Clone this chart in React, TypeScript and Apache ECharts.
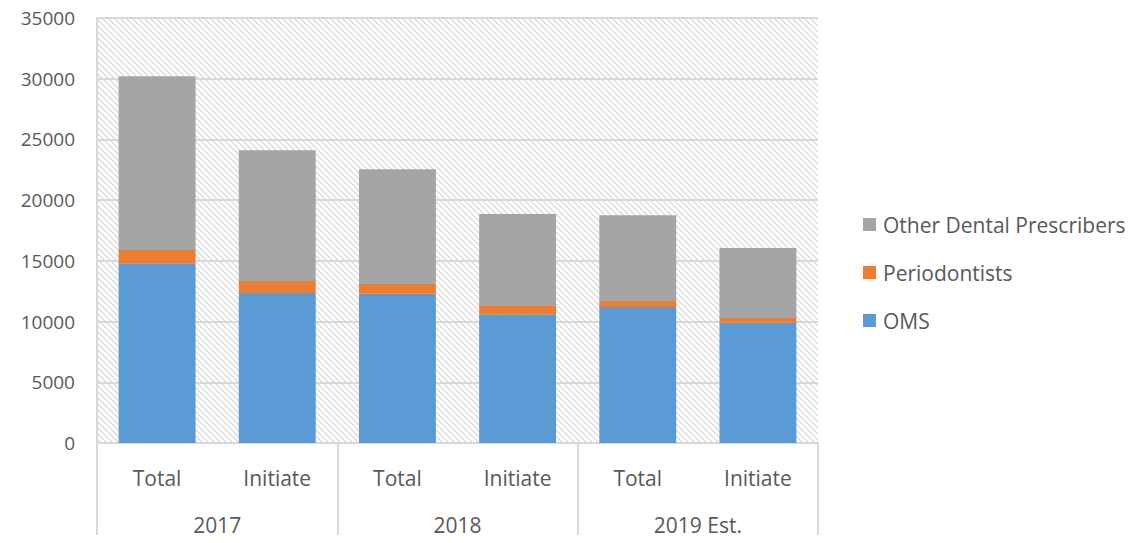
import React, { useEffect, useRef } from "react";
import * as echarts from "echarts";

const subCategories = ["Total", "Initiate", "Total", "Initiate", "Total", "Initiate"];
const yearCategories = ["2017", "2018", "2019 Est."];
const omsValues = [14800, 12350, 12300, 10600, 11200, 9900];
const periodontistValues = [1100, 1000, 800, 750, 500, 400];
const otherValues = [14300, 10750, 9450, 7500, 7050, 5750];

function makeHatch(): string {
  const size = 6;
  const c = document.createElement("canvas");
  c.width = size;
  c.height = size;
  const ctx = c.getContext("2d")!;
  ctx.fillStyle = "#ffffff";
  ctx.fillRect(0, 0, size, size);
  ctx.strokeStyle = "#d4d4d4";
  ctx.lineWidth = 1.2;
  for (const off of [-size, 0, size]) {
    ctx.beginPath();
    ctx.moveTo(off, 0);
    ctx.lineTo(off + size, size);
    ctx.stroke();
  }
  return c.toDataURL("image/png");
}

export default function App() {
  const ref = useRef<HTMLDivElement>(null);
  useEffect(() => {
    if (!ref.current) return;
    const chart = echarts.init(ref.current, undefined, { renderer: "svg" });
    const font = "'Open Sans', sans-serif";
    const hatch = makeHatch();
    chart.setOption({
      animation: false,
      backgroundColor: "#ffffff",
      textStyle: { fontFamily: font },
      grid: {
        left: 97,
        right: 326,
        top: 18,
        bottom: 100,
        show: true,
        borderWidth: 0,
        backgroundColor: { image: hatch, repeat: "repeat", imageWidth: 6, imageHeight: 6 } as any,
      },
      legend: {
        orient: "vertical",
        left: 858,
        top: 209,
        itemGap: 27,
        itemWidth: 13,
        itemHeight: 13,
        icon: "rect",
        data: ["Other Dental Prescribers", "Periodontists", "OMS"],
        textStyle: { fontFamily: font, fontSize: 21, color: "#595959", padding: [0, 0, 0, 2] },
      },
      xAxis: [
        {
          type: "category",
          data: subCategories,
          position: "bottom",
          axisLine: { show: true, lineStyle: { color: "#d9d9d9", width: 2 } },
          axisTick: { show: false },
          axisLabel: { color: "#595959", fontSize: 21, margin: 24, fontFamily: font, interval: 0 },
        },
        {
          type: "category",
          data: yearCategories,
          position: "bottom",
          axisLine: { show: false },
          axisTick: { show: true, length: 110, lineStyle: { color: "#d9d9d9", width: 2 } },
          axisLabel: { color: "#595959", fontSize: 21, margin: 71, fontFamily: font, interval: 0 },
        },
      ],
      yAxis: {
        type: "value",
        min: 0,
        max: 35000,
        interval: 5000,
        axisLine: { show: true, lineStyle: { color: "#d9d9d9", width: 2 } },
        axisTick: { show: false },
        splitLine: { show: true, lineStyle: { color: "#d9d9d9", width: 2 } },
        axisLabel: {
          color: "#595959",
          fontSize: 19,
          margin: 22,
          fontFamily: font,
          formatter: (v: number) => String(v),
        },
      },
      series: [
        {
          name: "OMS",
          type: "bar",
          stack: "total",
          xAxisIndex: 0,
          data: omsValues,
          barCategoryGap: "36%",
          itemStyle: { color: "#5b9bd5" },
        },
        {
          name: "Periodontists",
          type: "bar",
          stack: "total",
          xAxisIndex: 0,
          data: periodontistValues,
          barCategoryGap: "36%",
          itemStyle: { color: "#ed7d31" },
        },
        {
          name: "Other Dental Prescribers",
          type: "bar",
          stack: "total",
          xAxisIndex: 0,
          data: otherValues,
          barCategoryGap: "36%",
          itemStyle: { color: "#a5a5a5" },
        },
      ],
    });
    return () => chart.dispose();
  }, []);
  return <div ref={ref} style={{ width: 1144, height: 543, margin: -8 }} />;
}
